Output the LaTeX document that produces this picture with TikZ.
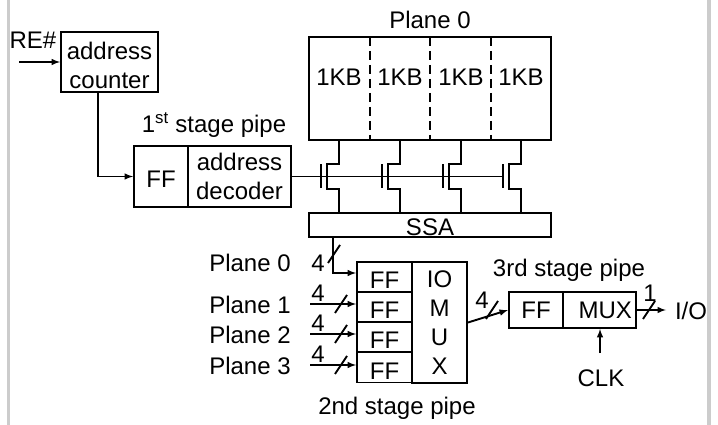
\documentclass[tikz,border=0pt]{standalone}
\usepackage{fontspec}
\setmainfont{Liberation Sans}
\begin{document}
\begin{tikzpicture}[x=1pt,y=-1pt]
\tikzset{edge/.style = {-, line width=1.9pt}}
\tikzset{wire/.style = {-latex, line width=1.9pt}}
\tikzset{block/.style = {shape=rectangle, draw, line width=1.9pt, inner sep=0pt, align=center, font=\fontsize{24}{29}\selectfont}}
\tikzset{ffrow/.style = {block, minimum width=55pt, minimum height=30pt, text height=23pt}}
\tikzset{txt/.style = {inner sep=0pt, align=center, font=\fontsize{24}{29}\selectfont}}
\def \busmark#1{\draw[edge] ([shift={(-6,9)}]#1) -- ([shift={(6,-9)}]#1);}
\useasboundingbox (0,0) rectangle (718,425);
\fill[black!20] (7,0) rectangle (10,425);
\fill[black!20] (707,0) rectangle (711,425);
% counter and first stage
\node[txt](re) at (33,40) {RE\#};
\coordinate (rein) at (19,62);
\node[block, minimum width=97pt, minimum height=60pt](counter) at (109.5,62) {\rule{0pt}{24pt}address\\counter};
\node[txt](stage1) at (214,125) {1\textsuperscript{st} stage pipe};
\node[block, minimum width=54pt, minimum height=61pt, text height=23pt](ff1) at (161,176.5) {FF};
\node[block, minimum width=103pt, minimum height=61pt](dec) at (239.5,176.5) {address\\decoder};
\coordinate (bend1) at (98,176.5);
\draw[wire] (rein) to (counter.west);
\draw[wire] (counter.south -| bend1) -- (bend1) -- (ff1.west);
% plane
\node[txt](plane) at (430,20) {Plane 0};
\node[block, minimum width=242pt, minimum height=103pt](array) at (430,88.5) {};
\node[txt](kb0) at (339,77) {1KB};
\node[txt](kb1) at (400,77) {1KB};
\node[txt](kb2) at (461,77) {1KB};
\node[txt](kb3) at (521,77) {1KB};
\draw[edge, dash pattern=on 9pt off 5pt] (370,37) -- (370,140);
\draw[edge, dash pattern=on 9pt off 5pt] (430,37) -- (430,140);
\draw[edge, dash pattern=on 9pt off 5pt] (491,37) -- (491,140);
\node[block, minimum width=242pt, minimum height=24pt, text height=21pt](ssa) at (430,225) {SSA};
% pass transistors
\coordinate (t0) at (339,176.5);
\coordinate (t1) at (400,176.5);
\coordinate (t2) at (461,176.5);
\coordinate (t3) at (521,176.5);
\draw[edge] (t0 |- array.south) -- ++(0,23) -- ++(-12,0) -- ++(0,25) -- ++(12,0) -- (t0 |- ssa.north);
\draw[edge] (t1 |- array.south) -- ++(0,23) -- ++(-12,0) -- ++(0,25) -- ++(12,0) -- (t1 |- ssa.north);
\draw[edge] (t2 |- array.south) -- ++(0,23) -- ++(-12,0) -- ++(0,25) -- ++(12,0) -- (t2 |- ssa.north);
\draw[edge] (t3 |- array.south) -- ++(0,23) -- ++(-12,0) -- ++(0,25) -- ++(12,0) -- (t3 |- ssa.north);
\draw[edge] ([shift={(-18,-12)}]t0) -- ([shift={(-18,12)}]t0);
\draw[edge] ([shift={(-18,-12)}]t1) -- ([shift={(-18,12)}]t1);
\draw[edge] ([shift={(-18,-12)}]t2) -- ([shift={(-18,12)}]t2);
\draw[edge] ([shift={(-18,-12)}]t3) -- ([shift={(-18,12)}]t3);
\coordinate (gate3) at ([shift={(-18,0)}]t3);
\draw[edge] (dec.east) to (gate3);
% second stage
\node[ffrow](ff20) at (384.5,277) {FF};
\node[ffrow](ff21) at (384.5,307) {FF};
\node[ffrow](ff22) at (384.5,337) {FF};
\node[ffrow](ff23) at (384.5,367.5) {FF};
\node[block, minimum width=55pt, minimum height=121pt](iomux) at (439.5,322.5) {IO\\M\\U\\X};
\node[txt](stage2) at (397,408) {2nd stage pipe};
\node[txt](p0) at (250,263) {Plane 0};
\node[txt](p1) at (250,305) {Plane 1};
\node[txt](p2) at (250,335) {Plane 2};
\node[txt](p3) at (250,366) {Plane 3};
\node[txt](n0) at (318,263) {4};
\node[txt](n1) at (318,293) {4};
\node[txt](n2) at (318,323) {4};
\node[txt](n3) at (318,354) {4};
\coordinate (ssaout) at (333,237);
\coordinate (bend0) at (333,273);
\coordinate (in1) at (310,304);
\coordinate (in2) at (310,334);
\coordinate (in3) at (310,365);
\draw[wire] (ssaout) -- (bend0) -- (bend0 -| ff20.west);
\draw[wire] (in1) -- (in1 -| ff21.west);
\draw[wire] (in2) -- (in2 -| ff22.west);
\draw[wire] (in3) -- (in3 -| ff23.west);
\coordinate (m0) at (334,254);
\coordinate (m1) at (341,304);
\coordinate (m2) at (341,334);
\coordinate (m3) at (341,365);
\busmark{m0}
\busmark{m1}
\busmark{m2}
\busmark{m3}
% third stage
\node[txt](stage3) at (569,270) {3rd stage pipe};
\node[block, minimum width=54pt, minimum height=36pt](ff3) at (536,310) {FF};
\node[block, text width=65pt, inner xsep=4pt, align=right, minimum height=36pt](mux) at (599.5,310) {MUX};
\node[txt](n4) at (482,300) {4};
\node[txt](n5) at (650,293) {1};
\node[txt](io) at (691,311) {I/O};
\node[txt](clk) at (601,378) {CLK};
\coordinate (clkin) at (600,353);
\coordinate (ioout) at (666,310);
\coordinate (m4) at (492,310);
\coordinate (m5) at (649,310);
\draw[wire] (iomux.east) to (ff3.west);
\draw[wire] (mux.east) to (ioout);
\draw[wire] (clkin) to (clkin |- mux.south);
\busmark{m4}
\busmark{m5}
\end{tikzpicture}
\end{document}
